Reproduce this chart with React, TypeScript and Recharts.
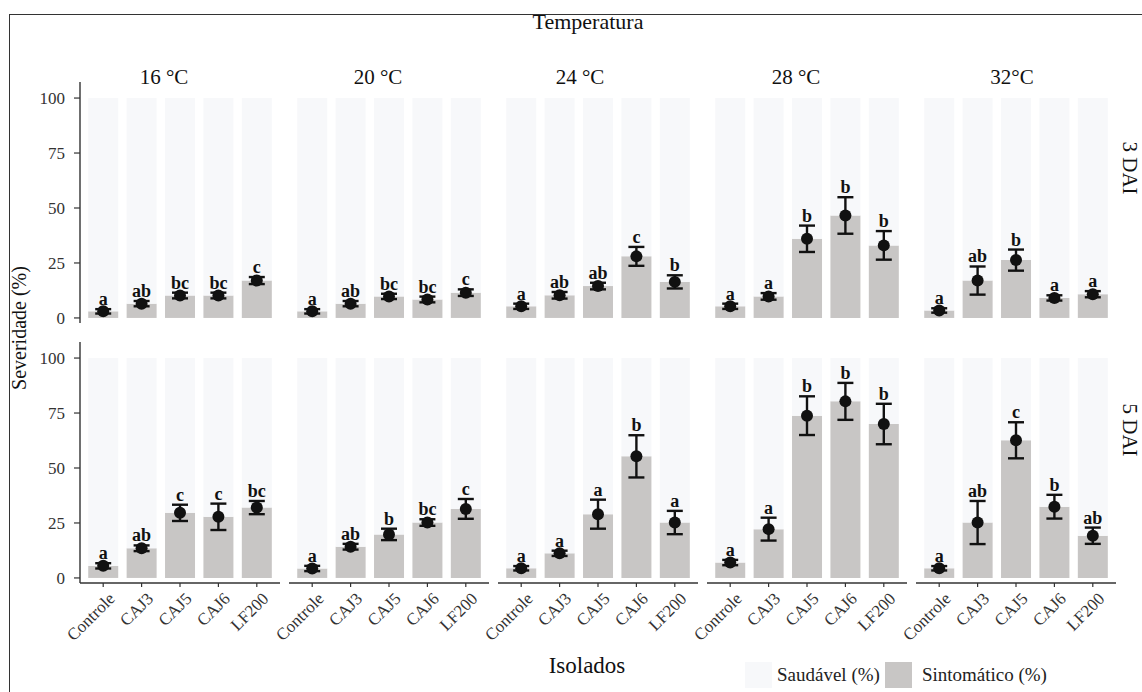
import React from 'react';
import { ComposedChart, Bar, Scatter, ErrorBar, XAxis, YAxis } from 'recharts';

const isolados = ['Controle', 'CAJ3', 'CAJ5', 'CAJ6', 'LF200'];
const temperaturas = ['16 °C', '20 °C', '24 °C', '28 °C', '32°C'];
const avaliacoes = ['3 DAI', '5 DAI'];
const ticksY = [0, 25, 50, 75, 100];

// severidade média (%) por temperatura, 3 DAI
const media3 = [
  [3.0, 6.5, 10.2, 10.2, 17.0],
  [3.0, 6.5, 9.8, 8.4, 11.5],
  [5.3, 10.3, 14.5, 28.0, 16.4],
  [5.3, 9.8, 36.0, 46.6, 33.0],
  [3.4, 17.0, 26.3, 9.1, 10.8],
];
const erro3 = [
  [1.0, 1.2, 1.3, 1.3, 1.6],
  [1.0, 1.2, 1.2, 1.3, 1.5],
  [1.2, 1.5, 1.5, 4.3, 3.0],
  [1.2, 1.5, 6.0, 8.3, 6.5],
  [1.0, 6.4, 4.8, 1.2, 1.4],
];
const letras3 = [
  ['a', 'ab', 'bc', 'bc', 'c'],
  ['a', 'ab', 'bc', 'bc', 'c'],
  ['a', 'ab', 'ab', 'c', 'b'],
  ['a', 'a', 'b', 'b', 'b'],
  ['a', 'ab', 'b', 'a', 'a'],
];

// severidade média (%) por temperatura, 5 DAI
const media5 = [
  [5.5, 13.5, 29.6, 27.8, 32.0],
  [4.3, 14.2, 19.8, 25.2, 31.4],
  [4.4, 11.2, 29.0, 55.3, 25.2],
  [7.0, 22.2, 73.8, 80.3, 70.0],
  [4.4, 25.2, 62.6, 32.4, 19.2],
];
const erro5 = [
  [1.2, 1.3, 3.7, 6.0, 3.0],
  [1.2, 1.3, 2.6, 1.5, 4.5],
  [1.0, 1.2, 6.6, 9.6, 5.3],
  [1.2, 5.2, 8.8, 8.4, 9.2],
  [1.0, 9.8, 8.2, 5.4, 3.7],
];
const letras5 = [
  ['a', 'ab', 'c', 'c', 'bc'],
  ['a', 'ab', 'b', 'bc', 'c'],
  ['a', 'a', 'a', 'b', 'a'],
  ['a', 'a', 'b', 'b', 'b'],
  ['a', 'ab', 'c', 'b', 'ab'],
];

const series = ['Saudável (%)', 'Sintomático (%)'];
const CORES = ['#f7f8fa', '#c8c6c5'];

const FONTE = '"Liberation Serif", "Times New Roman", serif';
const LARGURA = 200;
const ALTURA = 241;
const PASSO = 209;
const X0 = 80;
const TOPO = [82, 342];
const MARGEM = 50; // espaço à esquerda: eixo y ou rótulos inclinados
const EIXO_X = 75;
const FOLGA = 14;

type Linha = {
  isolado: string;
  sintomatico: number;
  saudavel: number;
  erro: number;
  topo: number;
  letra: string;
};

const montar = (medias: number[], erros: number[], letras: string[]): Linha[] =>
  isolados.map((iso, k) => ({
    isolado: iso,
    sintomatico: medias[k],
    saudavel: 100 - medias[k],
    erro: erros[k],
    topo: medias[k] + erros[k],
    letra: letras[k],
  }));

const paineis = [
  media3.map((m, i) => montar(m, erro3[i], letras3[i])),
  media5.map((m, i) => montar(m, erro5[i], letras5[i])),
];

const TickIsolado = (props: any) => {
  const { x, y, payload } = props;
  return (
    <g transform={`translate(${x + 4},${y + 2}) rotate(-45)`}>
      <text x={0} y={0} dy="0.72em" textAnchor="end" fontFamily={FONTE} fontSize={17} fill="#333">
        {payload.value}
      </text>
    </g>
  );
};

const Ponto = (p: any) => <circle cx={p.cx} cy={p.cy} r={6} fill="#111" />;

const Letra = (p: any) => (
  <text
    x={p.cx}
    y={p.cy - 4}
    textAnchor="middle"
    fontFamily={FONTE}
    fontWeight="bold"
    fontSize={18}
    fill="#111"
  >
    {p.payload.letra}
  </text>
);

function Painel({ dados, coluna, linha }: { dados: Linha[]; coluna: number; linha: number }) {
  const primeira = coluna === 0;
  const embaixo = linha === 1;
  const left = X0 + coluna * PASSO - MARGEM;
  return (
    <div style={{ position: 'absolute', left, top: TOPO[linha] }}>
      <ComposedChart
        width={LARGURA + MARGEM}
        height={ALTURA + (embaixo ? EIXO_X : FOLGA)}
        data={dados}
        margin={{ top: 0, right: 0, bottom: embaixo ? 0 : FOLGA, left: primeira ? 0 : MARGEM }}
        barCategoryGap="11%"
      >
        <XAxis
          dataKey="isolado"
          hide={!embaixo}
          height={EIXO_X}
          padding={{ left: 4, right: 4 }}
          interval={0}
          tickSize={4}
          axisLine={{ stroke: '#333', strokeWidth: 1.4 }}
          tickLine={{ stroke: '#333', strokeWidth: 1.2 }}
          tick={<TickIsolado />}
        />
        <YAxis
          type="number"
          domain={[-2.3, 107.3]}
          allowDataOverflow
          ticks={ticksY}
          interval={0}
          hide={!primeira}
          width={MARGEM}
          tickSize={6}
          tickMargin={9}
          axisLine={{ stroke: '#333', strokeWidth: 1.4 }}
          tickLine={{ stroke: '#333', strokeWidth: 1.2 }}
          tick={{ fontFamily: FONTE, fontSize: 17, fill: '#333' }}
        />
        <Bar dataKey="sintomatico" stackId="s" fill={CORES[1]} isAnimationActive={false} />
        <Bar dataKey="saudavel" stackId="s" fill={CORES[0]} isAnimationActive={false} />
        <Scatter dataKey="sintomatico" shape={Ponto} isAnimationActive={false}>
          <ErrorBar dataKey="erro" direction="y" width={8} stroke="#111" strokeWidth={2.4} />
        </Scatter>
        <Scatter dataKey="topo" shape={Letra} isAnimationActive={false} />
      </ComposedChart>
    </div>
  );
}

// posição dos rótulos de temperatura (centro, em px)
const centrosTemp = [164, 378, 580, 796, 1012];
const centrosDAI = [168, 430];

export default function App() {
  const texto = { position: 'absolute' as const, fontFamily: FONTE, color: '#111', whiteSpace: 'nowrap' as const };
  return (
    <div
      style={{
        position: 'absolute',
        left: 0,
        top: 0,
        width: 1142,
        height: 692,
        background: '#fff',
        overflow: 'hidden',
      }}
    >
      <div style={{ position: 'absolute', left: 9, top: 14, width: 1133, height: 0, borderTop: '1.5px solid #333' }} />
      <div style={{ position: 'absolute', left: 9, top: 14, width: 0, height: 678, borderLeft: '1.5px solid #333' }} />

      <div style={{ ...texto, left: 588, top: 9, fontSize: 22, transform: 'translateX(-50%)' }}>Temperatura</div>

      {temperaturas.map((t, i) => (
        <div key={t} style={{ ...texto, left: centrosTemp[i], top: 65, fontSize: 21, transform: 'translateX(-50%)' }}>
          {t}
        </div>
      ))}

      {avaliacoes.map((a, j) => (
        <div
          key={a}
          style={{
            ...texto,
            left: 1129,
            top: centrosDAI[j],
            fontSize: 21,
            transform: 'translate(-50%, -50%) rotate(90deg)',
          }}
        >
          {a}
        </div>
      ))}

      <div style={{ ...texto, left: 19, top: 328, fontSize: 20, transform: 'translate(-50%, -50%) rotate(-90deg)' }}>
        Severidade (%)
      </div>

      <div style={{ ...texto, left: 587, top: 653, fontSize: 23, transform: 'translateX(-50%)' }}>Isolados</div>

      {paineis.map((linhaPaineis, linha) =>
        linhaPaineis.map((dados, coluna) => (
          <Painel key={`${linha}-${coluna}`} dados={dados} coluna={coluna} linha={linha} />
        ))
      )}

      <div style={{ position: 'absolute', left: 745, top: 662, display: 'flex', alignItems: 'center' }}>
        {series.map((s, k) => (
          <div key={s} style={{ display: 'flex', alignItems: 'center', marginRight: 5 }}>
            <div style={{ width: 27, height: 26, background: CORES[k], marginRight: k === 0 ? 5 : 10 }} />
            <span style={{ fontFamily: FONTE, fontSize: 19, color: '#222' }}>{s}</span>
          </div>
        ))}
      </div>
    </div>
  );
}
